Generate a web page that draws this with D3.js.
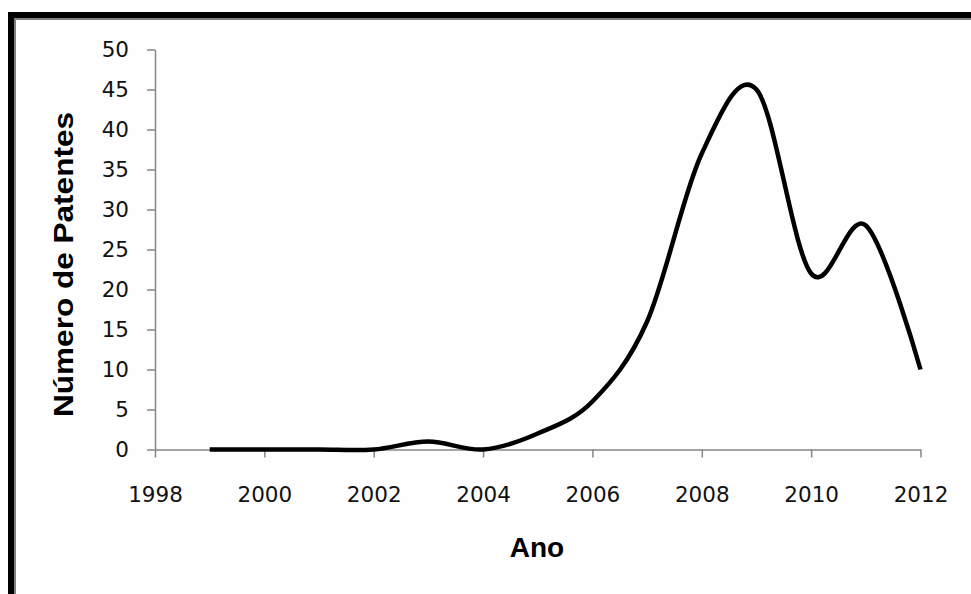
<!DOCTYPE html>
<html>
<head>
<meta charset="utf-8">
<script src="https://cdn.jsdelivr.net/npm/d3@7"></script>
<style>
  body { margin: 0; background: #fff; }
  svg { display: block; }
</style>
</head>
<body>
<div id="chart"></div>
<script>
// donnees
var anos = [1999, 2000, 2001, 2002, 2003, 2004, 2005, 2006, 2007, 2008, 2009, 2010, 2011, 2012];
var patentes = [0, 0, 0, 0, 1, 0, 2, 6, 16, 37, 45, 22, 28, 10];
var ticksX = [1998, 2000, 2002, 2004, 2006, 2008, 2010, 2012];
var ticksY = [0, 5, 10, 15, 20, 25, 30, 35, 40, 45, 50];

var W = 971, H = 594;
var svg = d3.select('#chart').append('svg').attr('width', W).attr('height', H);

// cadre (bordure noire + grise)
svg.append('rect').attr('x', 8).attr('y', 12).attr('width', W).attr('height', H).attr('fill', '#000');
svg.append('rect').attr('x', 14).attr('y', 18).attr('width', W).attr('height', H).attr('fill', '#808080');
svg.append('rect').attr('x', 16).attr('y', 20).attr('width', W).attr('height', H).attr('fill', '#fefefe');

var x = d3.scaleLinear().domain([1998, 2012]).range([155, 920.5]);
var y = d3.scaleLinear().domain([0, 50]).range([449.5, 49.5]);

// axes
var gx = svg.append('g').attr('transform', 'translate(0,' + y(0) + ')')
    .call(d3.axisBottom(x).tickValues(ticksX).tickFormat(d3.format('d'))
        .tickSize(8).tickSizeOuter(0).tickPadding(29.2));
var gy = svg.append('g').attr('transform', 'translate(' + x(1998) + ',0)')
    .call(d3.axisLeft(y).tickValues(ticksY).tickSize(8).tickSizeOuter(0).tickPadding(18));

[gx, gy].forEach(function(g){
    g.selectAll('path, line').attr('stroke', '#868686').attr('stroke-width', 1.5);
    g.selectAll('text').attr('fill', '#111')
        .style('font-family', '"DejaVu Sans", sans-serif').style('font-size', '21.5px');
});

// courbe lissee
var line = d3.line()
    .x(function(d, i){ return x(anos[i]); })
    .y(function(d){ return y(d); })
    .curve(d3.curveCardinal.tension(0));

svg.append('path').datum(patentes)
    .attr('d', line)
    .attr('fill', 'none')
    .attr('stroke', '#000')
    .attr('stroke-width', 4.5)
    .attr('stroke-linejoin', 'round');

// titres des axes
svg.append('text')
    .attr('x', 537).attr('y', 557)
    .attr('text-anchor', 'middle')
    .style('font-family', '"Liberation Sans", Arial, sans-serif')
    .style('font-weight', 'bold').style('font-size', '28px')
    .text('Ano');

svg.append('text')
    .attr('transform', 'translate(73,264.5) rotate(-90)')
    .attr('text-anchor', 'middle')
    .attr('textLength', 305).attr('lengthAdjust', 'spacingAndGlyphs')
    .style('font-family', '"Liberation Sans", Arial, sans-serif')
    .style('font-weight', 'bold').style('font-size', '28px')
    .text('Número de Patentes');
</script>
</body>
</html>
